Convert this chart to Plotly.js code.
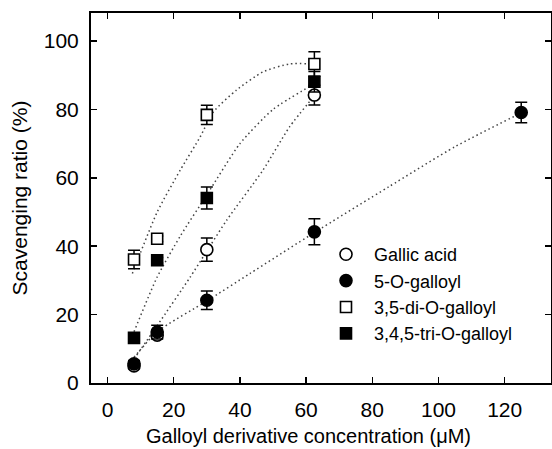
<!DOCTYPE html>
<html>
<head>
<meta charset="utf-8">
<script src="https://cdn.plot.ly/plotly-3.0.1.min.js"></script>
<style>html,body{margin:0;padding:0;background:#fff;}#chart{width:552px;height:449px;}</style>
</head>
<body>
<div id="chart"></div>
<script>
// Concentrations (uM)
const concentrations = [8, 15, 30, 62.5];
const concentrations5O = [8, 15, 30, 62.5, 125];

// Scavenging ratio (%) and error
const gallicValues = [5, 14, 39, 84.2];
const gallicErr = [0.8, 1, 3.4, 2.9];
const fiveOValues = [5.6, 14.9, 24.2, 44.2, 79.1];
const fiveOErr = [1, 2, 2.7, 3.8, 3];
const diValues = [36.1, 42.2, 78.4, 93.3];
const diErr = [2.7, 0.8, 2.8, 3.6];
const triValues = [13.2, 35.9, 54.1, 88.1];
const triErr = [0.8, 0.8, 3.2, 3];

// Dotted fit curves
const gallicFitX = [8, 15, 25, 36, 47, 55, 62.5];
const gallicFitY = [7, 16.8, 31, 47.6, 62.3, 74.9, 84];
const fiveOFitX = [8, 15, 30, 43, 62.5, 85, 105, 125];
const fiveOFitY = [7.5, 15, 24, 32, 44, 57.4, 69.1, 79];
const diFitX = [7.5, 15, 22, 28, 32, 39, 47, 55, 62.5];
const diFitY = [32, 50, 62.3, 72, 79.3, 85.7, 91, 93.3, 93.3];
const triFitX = [8, 15, 22, 30, 40, 50, 62.5];
const triFitY = [15, 31, 43, 55, 70, 80, 87.5];

const legendNames = ['Gallic acid', '5-O-galloyl', '3,5-di-O-galloyl', '3,4,5-tri-O-galloyl'];
const xTicks = [0, 20, 40, 60, 80, 100, 120];
const yTicks = [0, 20, 40, 60, 80, 100];
const xTitle = 'Galloyl derivative concentration (μM)';
const yTitle = 'Scavenging ratio (%)';

const font = 'Liberation Sans, Arial, Helvetica, sans-serif';
const dotLine = {color: '#444', width: 1.5, dash: '1.5px,3px', shape: 'spline', smoothing: 0.6};

function fit(x, y) {
  return {x: x, y: y, mode: 'lines', line: dotLine, showlegend: false, hoverinfo: 'skip', type: 'scatter'};
}
function pts(x, y, e, name, symbol, fill, size) {
  return {
    x: x, y: y, name: name, mode: 'markers', type: 'scatter',
    marker: {symbol: symbol, size: size, color: fill, line: {color: '#000', width: 1.6}},
    error_y: {type: 'data', array: e, visible: true, color: '#000', thickness: 1.5, width: 6}
  };
}

const data = [
  fit(gallicFitX, gallicFitY),
  fit(fiveOFitX, fiveOFitY),
  fit(diFitX, diFitY),
  fit(triFitX, triFitY),
  pts(concentrations, gallicValues, gallicErr, legendNames[0], 'circle', '#fff', 12),
  pts(concentrations5O, fiveOValues, fiveOErr, legendNames[1], 'circle', '#000', 12),
  pts(concentrations, diValues, diErr, legendNames[2], 'square', '#fff', 11),
  pts(concentrations, triValues, triErr, legendNames[3], 'square', '#000', 11)
];

const axisCommon = {
  showline: true, linecolor: '#000', linewidth: 2, mirror: 'ticks',
  ticks: 'inside', ticklen: 6, tickwidth: 1.5, tickcolor: '#000',
  showgrid: false, zeroline: false, tickfont: {family: font, size: 21, color: '#000'}
};

const layout = {
  width: 552, height: 449,
  margin: {l: 91, r: 1, t: 13, b: 66},
  paper_bgcolor: '#fff', plot_bgcolor: '#fff',
  font: {family: font, color: '#000'},
  xaxis: Object.assign({}, axisCommon, {
    range: [-5, 134], tickvals: xTicks, ticklabelstandoff: 7
  }),
  yaxis: Object.assign({}, axisCommon, {
    range: [0, 108.2], tickvals: yTicks, ticklabelstandoff: 6,
    title: {text: yTitle, font: {family: font, size: 21, color: '#000'}, standoff: 10}
  }),
  annotations: [{
    text: xTitle, xref: 'paper', yref: 'paper', showarrow: false,
    x: (308 - 91) / 460, y: 1 - (436 - 13) / 370, xanchor: 'center', yanchor: 'middle',
    font: {family: font, size: 20, color: '#000'}
  }],
  showlegend: true,
  legend: {
    font: {family: font, size: 18, color: '#000'},
    bgcolor: 'rgba(0,0,0,0)', borderwidth: 0, itemwidth: 46,
    x: (318 - 91) / 460, y: 1 - (236 - 13) / 370, xanchor: 'left', yanchor: 'top'
  }
};

Plotly.newPlot('chart', data, layout, {displayModeBar: false, staticPlot: true});
</script>
</body>
</html>
